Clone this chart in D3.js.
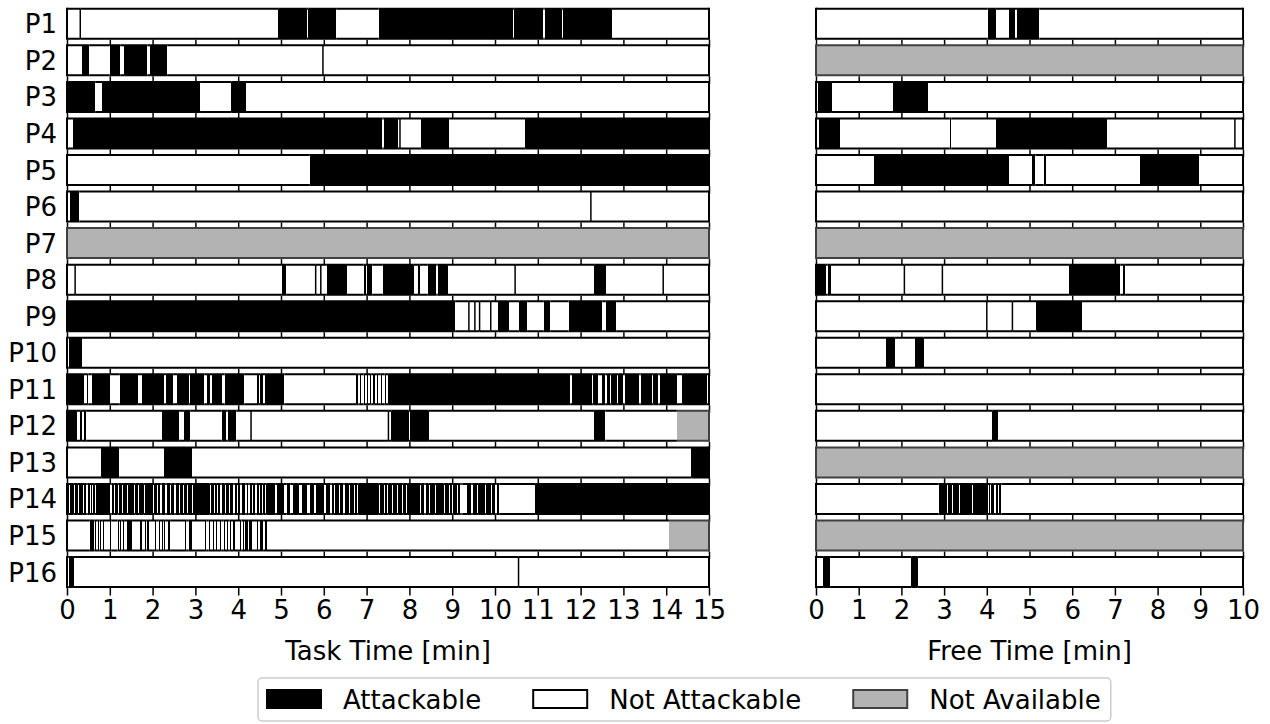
<!DOCTYPE html>
<html>
<head>
<meta charset="utf-8">
<script src="https://cdn.jsdelivr.net/npm/d3@7"></script>
<style>
  body { margin: 0; background: #fff; }
  text { font-family: "DejaVu Sans", sans-serif; }
</style>
</head>
<body>
<div id="chart"></div>
<script>
// each row: [start minute, state]; a part ends where the next one starts
// A = attackable, N = not attackable, X = not available
var participants = ["P1","P2","P3","P4","P5","P6","P7","P8","P9","P10","P11","P12","P13","P14","P15","P16"];
var taskTicks = [0,1,2,3,4,5,6,7,8,9,10,11,12,13,14,15];
var freeTicks = [0,1,2,3,4,5,6,7,8,9,10];
var legendLabels = ["Attackable", "Not Attackable", "Not Available"];
var legendStates = ["A", "N", "X"];

var task1 = [[0,"N"],[0.31,"N"],[4.94,"A"],[5.60,"N"],[5.64,"A"],[6.29,"N"],[7.28,"A"],[10.42,"N"],[10.45,"A"],[11.13,"N"],[11.16,"A"],[11.56,"N"],[11.59,"A"],[12.73,"N"]];
var task2 = [[0,"N"],[0.35,"A"],[0.52,"N"],[0.995,"A"],[1.245,"N"],[1.34,"A"],[1.88,"N"],[1.95,"A"],[2.34,"N"],[5.98,"N"]];
var task3 = [[0,"N"],[0.03,"A"],[0.66,"N"],[0.82,"A"],[3.11,"N"],[3.84,"A"],[4.18,"N"]];
var task4 = [[0,"N"],[0.14,"A"],[7.37,"N"],[7.40,"A"],[7.73,"N"],[7.78,"N"],[8.28,"A"],[8.93,"N"],[10.71,"A"]];
var task5 = [[0,"N"],[5.67,"A"]];
var task6 = [[0,"N"],[0.07,"A"],[0.29,"N"],[12.24,"N"]];
var task7 = [[0,"X"]];
var task8 = [[0,"N"],[0.19,"N"],[5.02,"A"],[5.12,"N"],[5.81,"N"],[5.93,"N"],[6.07,"A"],[6.54,"N"],[6.93,"A"],[6.98,"N"],[7.01,"A"],[7.13,"N"],[7.38,"A"],[8.10,"N"],[8.20,"A"],[8.24,"N"],[8.43,"A"],[8.63,"N"],[8.66,"A"],[8.90,"N"],[10.47,"N"],[12.32,"A"],[12.59,"N"],[13.93,"N"]];
var task9 = [[0,"N"],[0.03,"A"],[9.07,"N"],[9.39,"N"],[9.53,"N"],[9.64,"N"],[9.90,"N"],[10.08,"A"],[10.32,"N"],[10.57,"A"],[10.75,"N"],[11.14,"A"],[11.29,"N"],[11.72,"A"],[12.51,"N"],[12.59,"A"],[12.83,"N"]];
var task10 = [[0,"N"],[0.04,"A"],[0.35,"N"]];
var task11 = [[0,"N"],[0.03,"A"],[0.39,"N"],[0.47,"A"],[0.50,"N"],[0.58,"A"],[1.01,"N"],[1.23,"A"],[1.65,"N"],[1.75,"A"],[2.27,"N"],[2.32,"A"],[2.48,"N"],[2.58,"A"],[2.84,"N"],[2.87,"A"],[3.21,"N"],[3.27,"A"],[3.33,"N"],[3.39,"A"],[3.62,"N"],[3.68,"A"],[4.14,"N"],[4.44,"A"],[4.48,"N"],[4.52,"A"],[4.58,"N"],[4.63,"A"],[5.08,"N"],[6.76,"A"],[6.81,"N"],[6.84,"A"],[6.87,"N"],[6.93,"A"],[6.96,"N"],[7.01,"A"],[7.03,"N"],[7.09,"A"],[7.11,"N"],[7.16,"A"],[7.19,"N"],[7.24,"A"],[7.27,"N"],[7.33,"A"],[7.36,"N"],[7.42,"A"],[7.45,"N"],[7.51,"A"],[11.76,"N"],[11.80,"A"],[12.27,"N"],[12.30,"A"],[12.41,"N"],[12.50,"A"],[12.58,"N"],[12.62,"A"],[12.69,"N"],[12.72,"A"],[12.85,"N"],[12.88,"A"],[12.98,"N"],[13.03,"A"],[13.37,"N"],[13.40,"A"],[13.67,"N"],[13.70,"A"],[13.82,"N"],[13.85,"A"],[14.25,"N"],[14.38,"A"],[14.95,"N"]];
var task12 = [[0,"N"],[0.03,"A"],[0.23,"N"],[0.31,"A"],[0.34,"N"],[0.40,"A"],[0.45,"N"],[2.22,"A"],[2.62,"N"],[2.74,"A"],[2.88,"N"],[3.61,"A"],[3.71,"N"],[3.75,"A"],[3.96,"N"],[4.30,"N"],[7.51,"N"],[7.58,"A"],[7.98,"N"],[8.02,"A"],[8.45,"N"],[12.32,"A"],[12.58,"N"],[14.25,"X"]];
var task13 = [[0,"N"],[0.80,"A"],[1.22,"N"],[2.27,"A"],[2.92,"N"],[14.59,"A"]];
var task14 = [[0,"A"],[0.04,"N"],[0.07,"A"],[0.155,"N"],[0.185,"A"],[0.25,"N"],[0.28,"A"],[0.37,"N"],[0.40,"A"],[0.45,"N"],[0.48,"A"],[0.53,"N"],[0.56,"A"],[0.58,"N"],[0.61,"A"],[0.645,"N"],[0.675,"A"],[1.01,"N"],[1.04,"A"],[1.09,"N"],[1.12,"A"],[1.18,"N"],[1.21,"A"],[1.28,"N"],[1.31,"A"],[1.40,"N"],[1.43,"A"],[1.57,"N"],[1.60,"A"],[1.66,"N"],[1.69,"A"],[1.79,"N"],[1.82,"A"],[2.01,"N"],[2.04,"A"],[2.10,"N"],[2.13,"A"],[2.18,"N"],[2.21,"A"],[2.30,"N"],[2.33,"A"],[2.41,"N"],[2.44,"A"],[2.51,"N"],[2.54,"A"],[2.62,"N"],[2.65,"A"],[2.71,"N"],[2.74,"A"],[2.80,"N"],[2.83,"A"],[2.92,"N"],[2.95,"A"],[3.33,"N"],[3.36,"A"],[3.43,"N"],[3.46,"A"],[3.50,"N"],[3.53,"A"],[3.58,"N"],[3.61,"A"],[3.68,"N"],[3.71,"A"],[3.78,"N"],[3.81,"A"],[3.89,"N"],[3.92,"A"],[3.97,"N"],[4.00,"A"],[4.05,"N"],[4.08,"A"],[4.17,"N"],[4.20,"A"],[4.24,"N"],[4.27,"A"],[4.32,"N"],[4.35,"A"],[4.40,"N"],[4.43,"A"],[4.48,"N"],[4.51,"A"],[4.56,"N"],[4.59,"A"],[4.63,"N"],[4.66,"A"],[4.87,"N"],[4.91,"A"],[5.06,"N"],[5.13,"A"],[5.22,"N"],[5.29,"A"],[5.41,"N"],[5.49,"A"],[5.61,"N"],[5.67,"A"],[5.76,"N"],[5.82,"A"],[6.00,"N"],[6.06,"A"],[6.15,"N"],[6.18,"A"],[6.23,"N"],[6.26,"A"],[6.35,"N"],[6.38,"A"],[6.46,"N"],[6.49,"A"],[6.58,"N"],[6.61,"A"],[6.70,"N"],[6.73,"A"],[6.78,"N"],[6.81,"A"],[7.28,"N"],[7.31,"A"],[7.40,"N"],[7.43,"A"],[7.48,"N"],[7.51,"A"],[7.59,"N"],[7.62,"A"],[7.71,"N"],[7.74,"A"],[7.83,"N"],[7.86,"A"],[7.92,"N"],[7.95,"A"],[8.25,"N"],[8.28,"A"],[8.35,"N"],[8.38,"A"],[8.45,"N"],[8.48,"A"],[8.59,"N"],[8.62,"A"],[8.80,"N"],[8.83,"A"],[8.92,"N"],[8.95,"A"],[9.00,"N"],[9.03,"A"],[9.11,"N"],[9.14,"A"],[9.19,"N"],[9.22,"A"],[9.24,"N"],[9.35,"A"],[9.45,"N"],[9.48,"A"],[9.58,"N"],[9.61,"A"],[9.77,"N"],[9.80,"A"],[9.91,"N"],[9.94,"A"],[10.01,"N"],[10.04,"A"],[10.10,"N"],[10.94,"A"]];
var task15 = [[0,"N"],[0.53,"A"],[0.62,"N"],[0.645,"A"],[0.67,"N"],[0.72,"A"],[0.745,"N"],[0.76,"A"],[0.785,"N"],[0.84,"A"],[0.865,"N"],[1.01,"A"],[1.035,"N"],[1.18,"A"],[1.205,"N"],[1.245,"A"],[1.27,"N"],[1.31,"A"],[1.335,"N"],[1.40,"A"],[1.52,"N"],[1.71,"A"],[1.75,"N"],[1.83,"A"],[1.855,"N"],[1.88,"A"],[1.905,"N"],[2.06,"A"],[2.085,"N"],[2.14,"A"],[2.165,"N"],[2.22,"A"],[2.245,"N"],[2.27,"A"],[2.295,"N"],[2.37,"A"],[2.41,"N"],[2.76,"A"],[2.785,"N"],[2.84,"A"],[2.92,"N"],[3.23,"A"],[3.255,"N"],[3.31,"A"],[3.335,"N"],[3.41,"A"],[3.435,"N"],[3.48,"A"],[3.505,"N"],[3.58,"A"],[3.605,"N"],[3.66,"A"],[3.685,"N"],[3.74,"A"],[3.765,"N"],[3.80,"A"],[3.825,"N"],[3.89,"A"],[3.915,"N"],[4.05,"A"],[4.075,"N"],[4.11,"A"],[4.135,"N"],[4.17,"A"],[4.195,"N"],[4.21,"A"],[4.235,"N"],[4.26,"A"],[4.32,"N"],[4.44,"A"],[4.465,"N"],[4.52,"A"],[4.545,"N"],[4.56,"A"],[4.585,"N"],[4.63,"A"],[4.67,"N"],[14.07,"X"]];
var task16 = [[0,"N"],[0.04,"A"],[0.16,"N"],[10.55,"N"]];

var free1 = [[0,"N"],[4.02,"A"],[4.21,"N"],[4.52,"A"],[4.66,"N"],[4.71,"A"],[5.23,"N"]];
var free2 = [[0,"X"]];
var free3 = [[0,"N"],[0.05,"A"],[0.37,"N"],[1.81,"A"],[2.62,"N"]];
var free4 = [[0,"N"],[0.07,"A"],[0.56,"N"],[3.13,"A"],[3.17,"N"],[4.22,"A"],[6.81,"N"],[9.81,"N"]];
var free5 = [[0,"N"],[1.36,"A"],[4.52,"N"],[5.07,"A"],[5.14,"N"],[5.33,"A"],[5.38,"N"],[7.59,"A"],[8.98,"N"]];
var free6 = [[0,"N"]];
var free7 = [[0,"X"]];
var free8 = [[0,"A"],[0.23,"N"],[0.27,"A"],[0.34,"N"],[2.07,"N"],[2.96,"N"],[5.93,"A"],[7.13,"N"],[7.20,"A"],[7.24,"N"]];
var free9 = [[0,"N"],[4.00,"N"],[4.60,"N"],[5.16,"A"],[6.23,"N"]];
var free10 = [[0,"N"],[1.64,"A"],[1.84,"N"],[2.32,"A"],[2.52,"N"]];
var free11 = [[0,"N"]];
var free12 = [[0,"N"],[4.13,"A"],[4.26,"N"]];
var free13 = [[0,"X"]];
var free14 = [[0,"N"],[2.87,"A"],[3.06,"N"],[3.09,"A"],[3.18,"N"],[3.21,"A"],[3.34,"N"],[3.37,"A"],[3.65,"N"],[3.68,"A"],[4.02,"N"],[4.05,"A"],[4.08,"N"],[4.11,"A"],[4.16,"N"],[4.21,"A"],[4.26,"N"],[4.29,"A"],[4.34,"N"]];
var free15 = [[0,"X"]];
var free16 = [[0,"N"],[0.17,"A"],[0.33,"N"],[2.23,"A"],[2.38,"N"]];

var taskRows = [task1,task2,task3,task4,task5,task6,task7,task8,task9,task10,task11,task12,task13,task14,task15,task16];
var freeRows = [free1,free2,free3,free4,free5,free6,free7,free8,free9,free10,free11,free12,free13,free14,free15,free16];

// set up chart
var svgWidth = 1270;
var svgHeight = 724;
var fontSize = 26;

var stateFill = {A: "#000000", N: "#ffffff", X: "#b3b3b3"};
var stateEdge = {A: "#000000", N: "#000000", X: "#404040"};

var svg = d3.select("#chart")
    .append("svg")
    .attr("width", svgWidth)
    .attr("height", svgHeight)
    .style("background", "#fff");

// one band per participant, each band is its own little axes
var yScale = d3.scaleBand()
    .domain(participants)
    .range([8.8, 587.05])
    .paddingInner(0.1792)
    .paddingOuter(0);
var rowHeight = yScale.bandwidth();

var panels = [
    {rows: taskRows, max: 15, left: 67, right: 709, ticks: taskTicks, title: "Task Time [min]"},
    {rows: freeRows, max: 10, left: 816, right: 1243, ticks: freeTicks, title: "Free Time [min]"}
];

function toParts(list, max) {
    return list.map(function(d, i) {
        return {
            start: d[0],
            end: i < list.length - 1 ? list[i + 1][0] : max,
            state: d[1],
            prev: i > 0 ? list[i - 1][1] : null
        };
    });
}

panels.forEach(function(p) {
    var xScale = d3.scaleLinear().domain([0, p.max]).range([p.left, p.right]);

    p.rows.forEach(function(list, i) {
        var parts = toParts(list, p.max);
        var top = yScale(participants[i]);
        var bottom = top + rowHeight;
        var isLast = i === participants.length - 1;
        var g = svg.append("g");

        // fills
        g.selectAll("rect")
            .data(parts)
            .enter()
            .append("rect")
            .attr("x", d => xScale(d.start))
            .attr("y", top)
            .attr("width", d => Math.max(1, xScale(d.end) - xScale(d.start)))
            .attr("height", rowHeight)
            .attr("fill", d => stateFill[d.state])
            .attr("shape-rendering", "crispEdges");

        // cut lines between two not-attackable parts
        g.selectAll("line.cut")
            .data(parts.filter(d => d.prev === "N" && d.state === "N"))
            .enter()
            .append("line")
            .attr("class", "cut")
            .attr("x1", d => xScale(d.start))
            .attr("x2", d => xScale(d.start))
            .attr("y1", top)
            .attr("y2", bottom)
            .attr("stroke", "#000")
            .attr("stroke-width", 1.5);

        // top and bottom edges
        g.selectAll("path.edge")
            .data(parts)
            .enter()
            .append("path")
            .attr("class", "edge")
            .attr("d", d => `M${xScale(d.start)},${top}H${xScale(d.end)}M${xScale(d.start)},${bottom}H${xScale(d.end)}`)
            .attr("fill", "none")
            .attr("stroke", d => stateEdge[d.state])
            .attr("stroke-width", 2);

        // side edges
        g.append("line")
            .attr("x1", xScale(0)).attr("x2", xScale(0))
            .attr("y1", top - 1).attr("y2", bottom + 1)
            .attr("stroke", stateEdge[parts[0].state])
            .attr("stroke-width", 2);
        g.append("line")
            .attr("x1", xScale(p.max)).attr("x2", xScale(p.max))
            .attr("y1", top - 1).attr("y2", bottom + 1)
            .attr("stroke", stateEdge[parts[parts.length - 1].state])
            .attr("stroke-width", 2);

        // ticks under every row, labels only under the last one
        var xAxis = d3.axisBottom(xScale)
            .tickValues(p.ticks)
            .tickSize(7.5)
            .tickPadding(5)
            .tickFormat(isLast ? d3.format("d") : "");

        var axisG = svg.append("g")
            .attr("transform", `translate(0, ${bottom + 1})`)
            .call(xAxis);
        axisG.select(".domain").remove();
        axisG.selectAll(".tick line").attr("stroke-width", 1.5);
        axisG.selectAll("text")
            .attr("font-size", fontSize)
            .attr("font-family", "DejaVu Sans")
            .attr("fill", "#000");
    });

    // axis title
    svg.append("text")
        .attr("x", (p.left + p.right) / 2)
        .attr("y", 660)
        .attr("text-anchor", "middle")
        .attr("font-size", fontSize)
        .text(p.title);
});

// participant labels
svg.selectAll("text.plabel")
    .data(participants)
    .enter()
    .append("text")
    .attr("class", "plabel")
    .attr("x", 57)
    .attr("y", d => yScale(d) + rowHeight / 2 + 9.5)
    .attr("text-anchor", "end")
    .attr("font-size", fontSize)
    .text(d => d);

// legend
var legendG = svg.append("g");
var legendBox = legendG.append("rect")
    .attr("fill", "#fff")
    .attr("stroke", "#cccccc")
    .attr("stroke-width", 1.5)
    .attr("rx", 4);

var lx = 267;
legendLabels.forEach(function(label, i) {
    legendG.append("rect")
        .attr("x", lx)
        .attr("y", 690)
        .attr("width", 54)
        .attr("height", 18)
        .attr("fill", stateFill[legendStates[i]])
        .attr("stroke", stateEdge[legendStates[i]])
        .attr("stroke-width", 2);
    var t = legendG.append("text")
        .attr("x", lx + 76)
        .attr("y", 708.5)
        .attr("font-size", fontSize)
        .text(label);
    lx = lx + 76 + t.node().getComputedTextLength() + 52;
});
legendBox
    .attr("x", 258)
    .attr("y", 678)
    .attr("width", lx - 52 + 10 - 258)
    .attr("height", 43);
</script>
</body>
</html>
